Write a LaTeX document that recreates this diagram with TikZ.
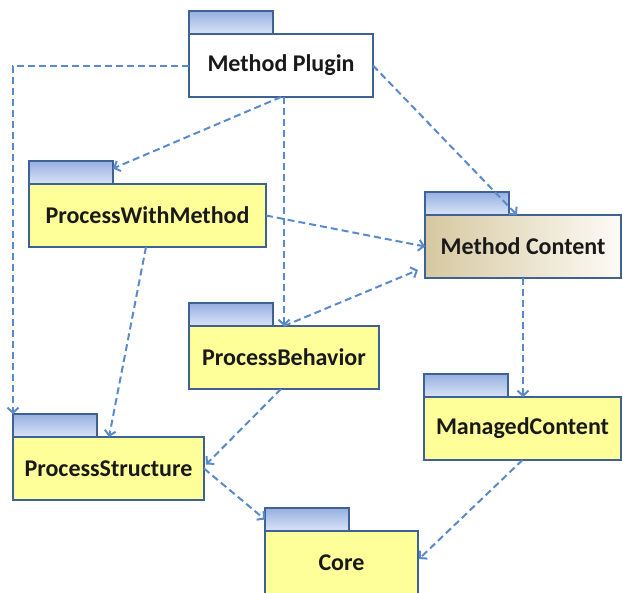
\documentclass[tikz,border=0pt]{standalone}
\usepackage{fontspec}
\setmainfont{Carlito}
\usetikzlibrary{arrows.meta,calc}

\definecolor{pkgborder}{RGB}{62,98,148}
\definecolor{tabtop}{RGB}{150,175,225}
\definecolor{tabbottom}{RGB}{218,228,246}
\definecolor{pkgyellow}{RGB}{255,255,153}
\definecolor{depblue}{RGB}{88,138,204}
\definecolor{tanleft}{RGB}{214,200,160}
\definecolor{tanright}{RGB}{253,251,246}

\begin{document}
\begin{tikzpicture}[x=1pt,y=-1pt,
  pkgbody/.style={draw=pkgborder, line width=2.6pt, rectangle, inner sep=0pt, outer sep=0pt,
    minimum height=63pt, anchor=north west,
    font=\fontsize{24}{28}\selectfont\bfseries, text=black!90},
  pkgtab/.style={draw=pkgborder, line width=2.6pt, rectangle, inner sep=0pt, outer sep=0pt,
    minimum width=84pt, minimum height=23pt, anchor=south west,
    top color=tabtop, bottom color=tabbottom},
  dep/.style={draw=depblue, line width=2pt, dash pattern=on 7pt off 4pt,
    -{Straight Barb[length=5pt,width=11pt]}},
]
\useasboundingbox (0,0) rectangle (623,592);

% packages: body first, then the tab sitting on its top-left corner
\node[pkgbody, fill=white, minimum width=184pt] (mp) at (189,34) {Method Plugin};
\node[pkgtab] (mp-tab) at (mp.north west) {};

\node[pkgbody, fill=pkgyellow, minimum width=237pt] (pwm) at (29,184) {ProcessWithMethod};
\node[pkgtab] (pwm-tab) at (pwm.north west) {};

\node[pkgbody, left color=tanleft, right color=tanright, minimum width=196pt] (mc) at (425,215) {Method Content};
\node[pkgtab] (mc-tab) at (mc.north west) {};

\node[pkgbody, fill=pkgyellow, minimum width=190pt] (pb) at (189,326) {ProcessBehavior};
\node[pkgtab] (pb-tab) at (pb.north west) {};

\node[pkgbody, fill=pkgyellow, minimum width=197pt] (mgc) at (424,397) {ManagedContent};
\node[pkgtab] (mgc-tab) at (mgc.north west) {};

\node[pkgbody, fill=pkgyellow, minimum width=191pt] (ps) at (13,437) {ProcessStructure};
\node[pkgtab] (ps-tab) at (ps.north west) {};

\node[pkgbody, fill=pkgyellow, minimum width=153pt, minimum height=64pt] (core) at (265,531) {Core};
\node[pkgtab] (core-tab) at (core.north west) {};

% dependencies
\draw[dep] (mp.west) -| (ps-tab.north west);
\draw[dep] (mp.south) -- ($(pwm-tab.east)+(0,-4)$);
\draw[dep] (pb.north |- mp.south) -- (pb.north);
\draw[dep] (mp.east) -- ($(mc.north west)+(92,0)$);
\draw[dep] (pwm.east) -- (mc.west);
\draw[dep] (pb.north) -- ($(mc.south west)+(-7,-8)$);
\draw[dep] ($(pwm.south west)+(117,0)$) -- ($(ps.north west)+(96,0)$);
\draw[dep] ($(pb.south west)+(92,0)$) -- ($(ps.east)+(2,-4)$);
\draw[dep] (ps.east) -- (core-tab.west);
\draw[dep] (mc.south) -- (mc.south |- mgc.north);
\draw[dep] (mgc.south) -- ($(core.east)+(1,-4)$);
\end{tikzpicture}
\end{document}
